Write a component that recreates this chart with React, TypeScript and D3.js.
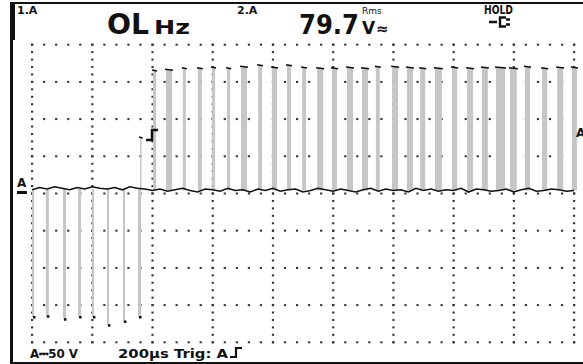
import React from 'react'
import * as d3 from 'd3'

const W = 583
const H = 364

// negative spikes before the trigger: start time (µs), width (µs), peak (V)
const negT = [0, 46, 103, 153, 199, 249, 302, 352]
const negW = [7, 10, 10, 10, 7, 7, 7, 10]
const negV = [-166, -165, -169, -166, -166, -177, -172, -166]

// positive pulses after the trigger
const posT = [359, 402, 445, 501, 551, 598, 648, 694, 751, 797, 847, 897, 947, 996, 1046,
  1096, 1142, 1196, 1245, 1289, 1338, 1395, 1445, 1494, 1541, 1587, 1637, 1694, 1744, 1793]
const posW = [5, 10, 20, 10, 13, 10, 10, 20, 13, 17, 13, 13, 20, 17, 20,
  20, 13, 20, 20, 17, 23, 17, 20, 20, 30, 23, 17, 17, 20, 17]
const posV = [76, 166, 167, 169, 169, 170, 169, 171, 173, 170, 173, 170, 169, 169, 170,
  169, 171, 171, 170, 169, 169, 170, 169, 170, 170, 169, 171, 169, 170, 170]

// baseline trace, one sample every 25 µs
const baseV = [5, 8, 6, 9, 7, 5, 8, 6, 9, 7, 6, 8, 5, 9, 7, 6,
  4, 6, 3, 5, 7, 4, 2, 6, 5, 3, 7, 4, 5, 2, 6, 4, 7, 3, 5, 6, 2, 4, 7, 5, 3, 6, 4, 2, 5, 7,
  3, 6, 4, 5, 2, 7, 4, 6, 3, 5, 4, 7, 2, 6, 5, 3, 4, 6, 2, 5, 7, 3, 4, 6, 5, 3, 4]

const gridT = [0, 200, 400, 600, 800, 1000, 1200, 1400, 1600, 1800]
const gridV = [-200, -150, -100, -50, 0, 50, 100, 150, 200]

const x = d3.scaleLinear().domain([0, 1800]).range([32, 574])
const y = d3.scaleLinear().domain([-200, 200]).range([342.3, 44.7])

const GRAY = '#c6c6c6'
const INK = '#111'
const font = '"DejaVu Sans", sans-serif'
const cond = '"DejaVu Sans Condensed", "DejaVu Sans", sans-serif'

export default function App() {
  const dots: JSX.Element[] = []
  gridV.forEach((v, i) => {
    d3.range(0, 1801, 40).forEach((t, k) => {
      dots.push(<rect key={`h${i}-${k}`} x={x(t) - 1} y={y(v) - 1} width={2.2} height={2} fill="#333" />)
    })
  })
  gridT.forEach((t, i) => {
    d3.range(-200, 201, 10).forEach((v, k) => {
      dots.push(<rect key={`v${i}-${k}`} x={x(t) - 1} y={y(v) - 1} width={2.2} height={2} fill="#333" />)
    })
  })

  const line = d3.line<number>()
    .x((_, i) => x(i * 25))
    .y(d => y(d))

  return (
    <svg width={W} height={H} style={{ position: 'absolute', left: 0, top: 0, background: '#fff' }}>
      <rect width={W} height={H} fill="#fff" />
      {dots}

      {/* negative spikes */}
      {negT.map((t, i) => (
        <g key={`n${i}`}>
          <rect x={x(t)} y={y(6)} width={x(negW[i]) - x(0)} height={y(negV[i]) - y(6)} fill={GRAY} />
          <rect x={x(t) + 1} y={y(negV[i]) - 1} width={2.5} height={2.5} fill={INK} />
        </g>
      ))}

      {/* positive pulses */}
      {posT.map((t, i) => (
        <g key={`p${i}`}>
          <rect x={x(t)} y={y(posV[i])} width={x(posW[i]) - x(0)} height={y(4) - y(posV[i])} fill={GRAY} />
          <line x1={x(t) - 1} x2={x(t + posW[i]) + 1} y1={y(posV[i])} y2={y(posV[i]) + 1}
            stroke={INK} strokeWidth={1.6} />
        </g>
      ))}

      {/* baseline */}
      <path d={line(baseV) || ''} fill="none" stroke={INK} strokeWidth={1.6} />

      {/* trigger marker */}
      <path d="M146,140 H152 V130 H158" fill="none" stroke={INK} strokeWidth={2.5} />
      <text x={576} y={137} fontFamily={font} fontWeight="bold" fontSize={12} fill={INK}>A</text>

      {/* ground marker */}
      <text x={17} y={187} fontFamily={font} fontWeight="bold" fontSize={12} fill={INK}>A</text>
      <rect x={17} y={191} width={10} height={3} fill={INK} />

      {/* frame */}
      <rect x={10} y={2} width={W - 10} height={2} fill={INK} />
      <rect x={10} y={2} width={5} height={38} fill={INK} />
      <rect x={10} y={2} width={3} height={H - 2} fill={INK} />
      <rect x={10} y={362} width={W - 10} height={2} fill={INK} />

      {/* header */}
      <text x={17} y={14} fontFamily={font} fontWeight="bold" fontSize={11} fill={INK}>1.A</text>
      <text x={107} y={34} fontFamily={cond} fontWeight="bold" fontSize={28} fill={INK} textLength={42} lengthAdjust="spacingAndGlyphs">OL</text>
      <text x={154} y={34} fontFamily={font} fontWeight="bold" fontSize={19} fill={INK} textLength={36} lengthAdjust="spacingAndGlyphs">Hz</text>
      <text x={237} y={14} fontFamily={font} fontWeight="bold" fontSize={11} fill={INK}>2.A</text>
      <text x={299} y={34} fontFamily={cond} fontWeight="bold" fontSize={27} fill={INK}>
        79.7<tspan fontFamily={font} fontSize={17} dx={3}>V</tspan><tspan fontFamily={font} fontSize={15} dx={1}>≈</tspan>
      </text>
      <text x={362} y={14} fontFamily={font} fontSize={9} fill={INK}>Rms</text>
      <text x={484} y={14} fontFamily={font} fontWeight="bold" fontSize={12} fill={INK} textLength={29} lengthAdjust="spacingAndGlyphs">HOLD</text>
      <path d="M489,22 H497 M506,17.5 H500 V26.5 H506 M506,19.5 H510 M506,24.5 H510" fill="none" stroke={INK} strokeWidth={2.4} />

      {/* footer */}
      <text x={30} y={358} fontFamily={font} fontWeight="bold" fontSize={13} fill={INK} textLength={48} lengthAdjust="spacingAndGlyphs">A⎓50 V</text>
      <text x={118} y={358} fontFamily={font} fontWeight="bold" fontSize={13} fill={INK} textLength={110} lengthAdjust="spacingAndGlyphs">200µs Trig: A</text>
      <path d="M230,357 H236 V348 H242" fill="none" stroke={INK} strokeWidth={2.2} />
    </svg>
  )
}
